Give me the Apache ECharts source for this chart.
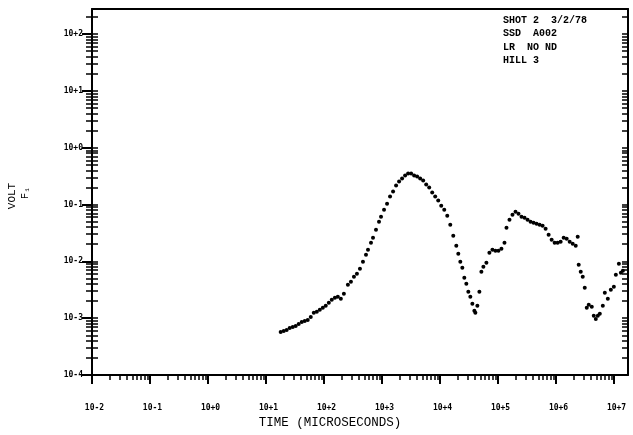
<!DOCTYPE html>
<html><head><meta charset="utf-8">
<script src="https://cdn.jsdelivr.net/npm/echarts@6/dist/echarts.min.js"></script>
<style>html,body{margin:0;padding:0;background:#fff}#c{width:633px;height:435px}</style>
</head><body><div id="c"></div>
<script>
// Time in microseconds
const timeUs = [17.9,20.2,22.7,25.6,28.9,32.5,36.6,41.3,46.5,52.4,59.1,66.6,75.1,84.6,95.3,107,121,136,154,173,195,220,258,291,328,369,416,469,529,573,645,699,787,887,961,1083,1220,1375,1550,1747,1968,2218,2500,2817,3175,3578,4032,4544,5121,5771,6503,7331,8260,9309,10490,11820,13320,15010,16920,19070,20650,22370,24230,26230,28410,30760,33310,36070,39060,40640,44010,47660,51610,55890,62990,70990,80000,90160,101600,114500,129100,139800,157500,177500,200000,225400,254000,286300,322700,363700,409900,461900,520600,586600,661100,745000,839600,946200,1066000,1201000,1354000,1526000,1719000,1938000,2184000,2364000,2460000,2665000,2885000,3125000,3384000,3664000,4130000,4472000,4843000,5245000,5680000,6401000,6931000,7811000,8803000,9920000,10740000,12110000,13110000,14200000];
// Voltage (VOLT)
const volts = [5.73e-4,5.97e-4,6.22e-4,6.74e-4,7.02e-4,7.31e-4,7.93e-4,8.60e-4,8.96e-4,9.33e-4,1.054e-3,1.24e-3,1.292e-3,1.401e-3,1.52e-3,1.648e-3,1.861e-3,2.102e-3,2.28e-3,2.375e-3,2.19e-3,2.683e-3,3.867e-3,4.368e-3,5.352e-3,6.045e-3,7.404e-3,9.84e-3,1.307e-2,1.602e-2,2.128e-2,2.608e-2,3.608e-2,4.994e-2,6.116e-2,8.13e-2,0.1037,0.1378,0.1689,0.2154,0.2534,0.2862,0.3233,0.3508,0.3508,0.3233,0.3105,0.2862,0.2639,0.2244,0.1987,0.1622,0.1378,0.1172,9.56e-2,8.13e-2,6.37e-2,4.42e-2,2.828e-2,1.884e-2,1.361e-2,9.84e-3,7.71e-3,5.14e-3,4.03e-3,2.909e-3,2.375e-3,1.788e-3,1.345e-3,1.24e-3,1.648e-3,2.909e-3,6.556e-3,8.03e-3,9.45e-3,1.418e-2,1.602e-2,1.538e-2,1.538e-2,1.668e-2,2.128e-2,3.913e-2,5.416e-2,6.63e-2,7.49e-2,6.91e-2,6.116e-2,5.87e-2,5.416e-2,4.994e-2,4.80e-2,4.60e-2,4.42e-2,4.25e-2,3.758e-2,2.945e-2,2.404e-2,2.128e-2,2.128e-2,2.216e-2,2.608e-2,2.504e-2,2.216e-2,2.043e-2,1.884e-2,2.716e-2,8.71e-3,6.556e-3,5.352e-3,3.422e-3,1.52e-3,1.716e-3,1.582e-3,1.098e-3,9.72e-4,1.098e-3,1.191e-3,1.648e-3,2.794e-3,2.19e-3,3.155e-3,3.565e-3,5.80e-3,9.07e-3,6.29e-3,6.83e-3];

const xTickValues = [1e-2,1e-1,1,10,100,1e3,1e4,1e5,1e6,1e7];
const xTickLabels = ['10-2','10-1','10+0','10+1','10+2','10+3','10+4','10+5','10+6','10+7'];
const yTickValues = [1e-4,1e-3,1e-2,1e-1,1,10,100];
const yTickLabels = ['10-4','10-3','10-2','10-1','10+0','10+1','10+2'];
const annotationLines = ['SHOT 2  3/2/78','SSD  A002','LR  NO ND','HILL 3'];
const xTitle = 'TIME (MICROSECONDS)';
const yTitle = 'VOLT';
const yTitle2 = 'F\u2081';

const X_MIN = 0.01, X_MAX = 1.74e7, Y_MIN = 1e-4, Y_MAX = 276;

function minorOf(majors, hi) {
  const out = [];
  majors.forEach(d => { for (let k = 2; k <= 9; k++) { const v = k * d; if (v <= hi) out.push(v); } });
  return out;
}
const xMinor = minorOf(xTickValues, X_MAX);
const yMinor = minorOf(yTickValues, Y_MAX);

function fmt(values, labels) {
  return v => {
    const e = Math.round(Math.log10(v));
    const i = values.findIndex(t => Math.round(Math.log10(t)) === e);
    return i >= 0 ? labels[i] : '';
  };
}

const labelFont = { fontSize: 8, fontWeight: 'bold', fontFamily: 'DejaVu Sans Mono', color: '#000' };

const chart = echarts.init(document.getElementById('c'), null, { renderer: 'canvas' });
chart.setOption({
  animation: false,
  backgroundColor: '#fff',
  grid: { left: 92, right: 5, top: 9, bottom: 60, outerBoundsMode: 'none', containLabel: false },
  xAxis: [
    { type: 'log', logBase: 10, min: X_MIN, max: X_MAX, position: 'bottom',
      axisLine: { lineStyle: { color: '#000', width: 2 } },
      axisTick: { customValues: xTickValues, length: 9, lineStyle: { color: '#000', width: 2 } },
      axisLabel: Object.assign({ customValues: xTickValues, formatter: fmt(xTickValues, xTickLabels), margin: 29, padding: [0, 0, 0, 5] }, labelFont),
      splitLine: { show: false }, minorTick: { show: false } },
    { type: 'log', logBase: 10, min: X_MIN, max: X_MAX, position: 'bottom',
      axisLine: { show: false },
      axisTick: { customValues: xMinor, length: 5, lineStyle: { color: '#000', width: 1.5 } },
      axisLabel: { show: false }, splitLine: { show: false } },
    { type: 'log', logBase: 10, min: X_MIN, max: X_MAX, position: 'top',
      axisLine: { lineStyle: { color: '#000', width: 2 } },
      axisTick: { show: false }, axisLabel: { show: false }, splitLine: { show: false } }
  ],
  yAxis: [
    { type: 'log', logBase: 10, min: Y_MIN, max: Y_MAX, position: 'left',
      axisLine: { lineStyle: { color: '#000', width: 2 } },
      axisTick: { customValues: yTickValues, length: 10, lineStyle: { color: '#000', width: 2 } },
      axisLabel: Object.assign({ customValues: yTickValues, formatter: fmt(yTickValues, yTickLabels), margin: 9 }, labelFont),
      splitLine: { show: false } },
    { type: 'log', logBase: 10, min: Y_MIN, max: Y_MAX, position: 'left',
      axisLine: { show: false },
      axisTick: { customValues: yMinor, length: 6, lineStyle: { color: '#000', width: 1.5 } },
      axisLabel: { show: false }, splitLine: { show: false } },
    { type: 'log', logBase: 10, min: Y_MIN, max: Y_MAX, position: 'left',
      axisLine: { show: false },
      axisTick: { customValues: yMinor.concat(yTickValues), inside: true, length: 6, lineStyle: { color: '#000', width: 1.5 } },
      axisLabel: { show: false }, splitLine: { show: false } },
    { type: 'log', logBase: 10, min: Y_MIN, max: Y_MAX, position: 'right',
      axisLine: { lineStyle: { color: '#000', width: 2 } },
      axisTick: { customValues: yMinor.concat(yTickValues), inside: true, length: 6, lineStyle: { color: '#000', width: 1.5 } },
      axisLabel: { show: false }, splitLine: { show: false } }
  ],
  series: [{
    type: 'scatter', xAxisIndex: 0, yAxisIndex: 0,
    data: timeUs.map((t, i) => [t, volts[i]]),
    symbol: 'circle', symbolSize: 4,
    itemStyle: { color: '#000', opacity: 1 }
  }],
  graphic: [
    { type: 'text', x: 12, y: 196, rotation: Math.PI / 2,
      style: { text: yTitle, font: '11px "Liberation Mono"', fill: '#000', align: 'center', verticalAlign: 'middle' } },
    { type: 'text', x: 25, y: 193, rotation: Math.PI / 2,
      style: { text: yTitle2, font: '10px "Liberation Mono"', fill: '#000', align: 'center', verticalAlign: 'middle' } },
    { type: 'text', x: 330, y: 423,
      style: { text: xTitle, font: '12.5px "Liberation Mono"', fill: '#000', align: 'center', verticalAlign: 'middle' } }
  ].concat(annotationLines.map((s, i) => ({
    type: 'text', x: 503, y: 20 + i * 13.5,
    style: { text: s, font: 'bold 10px "Liberation Mono"', fill: '#000', align: 'left', verticalAlign: 'middle' }
  })))
});
</script></body></html>
